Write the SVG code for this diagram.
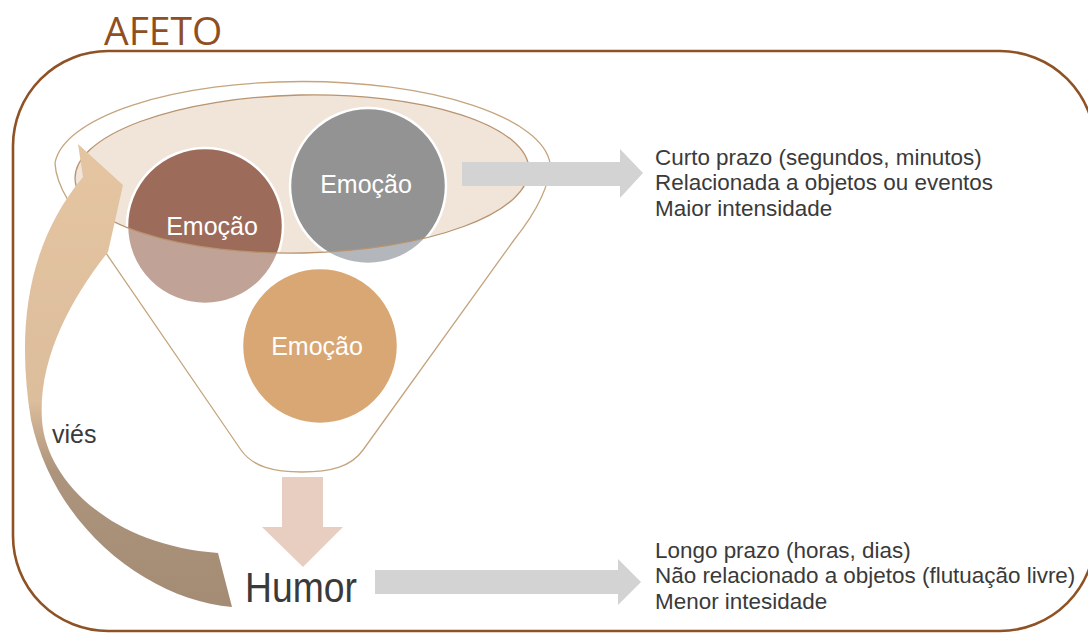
<svg xmlns="http://www.w3.org/2000/svg" width="1088" height="633" viewBox="0 0 1088 633">
<style>
.lbl{font-family:"Liberation Sans",Arial,sans-serif;fill:#3a3a3a}
.side{font-size:22px}
.emo{font-family:"Liberation Sans",Arial,sans-serif;fill:#ffffff;font-size:25px;text-anchor:middle}
.fl{fill:none;stroke:#c4a57e;stroke-width:1.3}
.ring{fill:none;stroke:#ffffff;stroke-width:2.5}
.gray{fill:#d3d3d3}
</style>
<defs>
<clipPath id="ellClip"><ellipse cx="302" cy="174" rx="227" ry="79" transform="rotate(-1.2 302 174)"/></clipPath>
<linearGradient id="biasGrad" gradientUnits="userSpaceOnUse" x1="0" y1="145" x2="0" y2="610">
<stop offset="0" stop-color="#e5c5a1"/>
<stop offset="0.55" stop-color="#dcbd9c"/>
<stop offset="0.7" stop-color="#ad947c"/>
<stop offset="1" stop-color="#a48b74"/>
</linearGradient>
</defs>
<rect width="1088" height="633" fill="#ffffff"/>
<g id="frame">
<rect x="13" y="51" width="1082" height="580" rx="95" ry="95" fill="none" stroke="#8f5225" stroke-width="2.6"/>
<text x="104" y="45" font-family="'Open Sans',sans-serif" font-size="39" fill="#8f4f22">AFETO</text>
</g>
<g id="funnel">
<path class="fl" d="M 55,163 A 248,87 0 0 1 550,163 C 550,185 538,210 514,240 L 363,450 C 351,467 330,472 302,472 C 274,472 253,467 241,450 L 97,240 C 75,212 56,188 55,163 Z" fill="#ffffff"/>
<ellipse cx="302" cy="174" rx="227" ry="79" transform="rotate(-1.2 302 174)" fill="#f1e5da"/>
</g>
<g id="emocao1">
<circle cx="205" cy="226" r="78" fill="#c1a296"/>
<circle cx="205" cy="226" r="78" fill="#9d6b5a" clip-path="url(#ellClip)"/>
<circle cx="205" cy="226" r="78" class="ring"/>
</g>
<g id="emocao2">
<circle cx="368" cy="186" r="78" fill="#b3b6ba"/>
<circle cx="368" cy="186" r="78" fill="#939393" clip-path="url(#ellClip)"/>
<circle cx="368" cy="186" r="78" class="ring"/>
</g>
<g id="emocao3">
<circle cx="320" cy="346" r="78" fill="#d9a773"/>
<circle cx="320" cy="346" r="78" class="ring"/>
</g>
<g id="funnel-rim">
<ellipse cx="302" cy="174" rx="227" ry="79" transform="rotate(-1.2 302 174)" fill="none" stroke="#b89470" stroke-width="1.3"/>
</g>
<g id="labels-emocao">
<text class="emo" x="212" y="235">Emoção</text>
<text class="emo" x="366" y="193">Emoção</text>
<text class="emo" x="317" y="355">Emoção</text>
</g>
<g id="connectors">
<path id="bias-arrow" d="M 232,607 C 150,600 55,530 31,420 C 18,340 22,250 83,177 L 78,144 L 123,185 L 108,252 C 70,300 38,360 42,420 C 46,480 110,545 218,553 Z" fill="url(#biasGrad)"/>
<polygon id="to-humor" points="282,477 323,477 323,527 343,527 303,567 262,527 282,527" fill="#e8cec1"/>
<polygon id="emocao-props" class="gray" points="462,162 620,162 620,149 643,173 620,198 620,186 462,186"/>
<polygon id="humor-props" class="gray" points="375,570 618,570 618,559 641,582 618,605 618,594 375,594"/>
</g>
<g id="vies">
<text class="lbl" x="52" y="443" font-size="25">viés</text>
</g>
<g id="humor">
<text class="lbl" x="245" y="602" font-size="42" textLength="112" lengthAdjust="spacingAndGlyphs">Humor</text>
</g>
<g id="emocao-text" transform="translate(655 0) scale(1.02 1)">
<text class="lbl side" x="0" y="165">Curto prazo (segundos, minutos)</text>
<text class="lbl side" x="0" y="190.5">Relacionada a objetos ou eventos</text>
<text class="lbl side" x="0" y="216">Maior intensidade</text>
</g>
<g id="humor-text" transform="translate(655 0) scale(1.02 1)">
<text class="lbl side" x="0" y="558">Longo prazo (horas, dias)</text>
<text class="lbl side" x="0" y="583.5">Não relacionado a objetos (flutuação livre)</text>
<text class="lbl side" x="0" y="609">Menor intesidade</text>
</g>
</svg>
